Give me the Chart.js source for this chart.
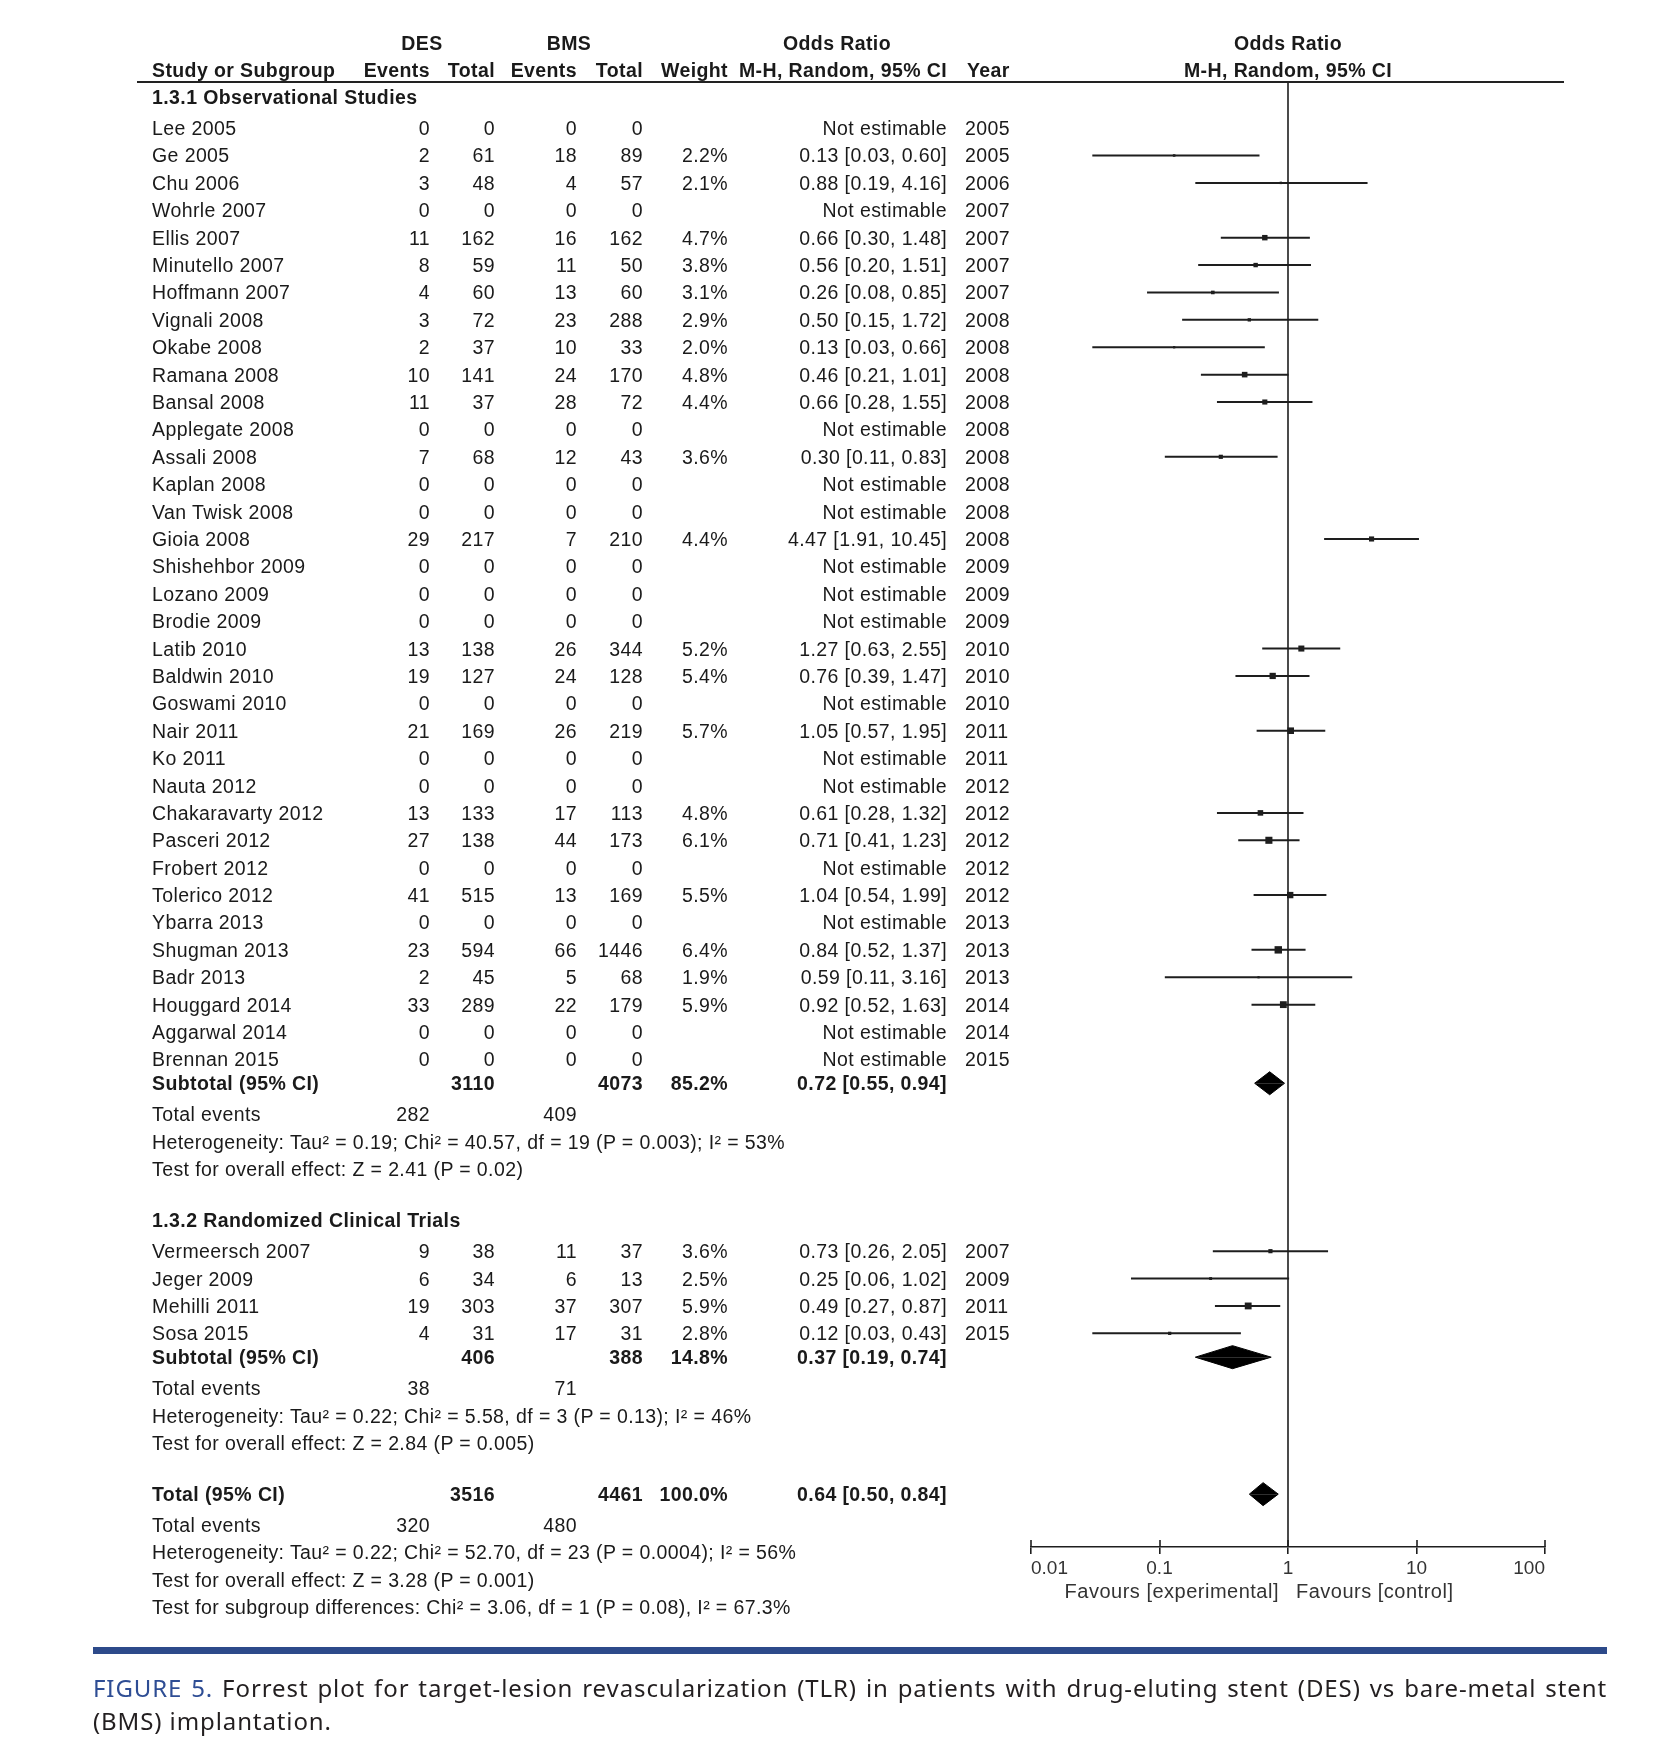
<!DOCTYPE html>
<html>
<head>
<meta charset="utf-8">
<script src="https://cdn.jsdelivr.net/npm/chart.js@4.4.1/dist/chart.umd.min.js"></script>
<style>
html,body{margin:0;padding:0;background:#fff;}
#wrap{position:relative;width:1666px;height:1762px;overflow:hidden;background:#fff;}
#c{position:absolute;left:0;top:0;}
.t{position:absolute;white-space:pre;font-family:"Liberation Sans",Arial,sans-serif;font-size:19.5px;letter-spacing:0.4px;line-height:24px;color:#1a1a1a;}
.b{font-weight:bold;}
.ax{color:#333;font-size:20px;letter-spacing:0.5px;}
#hline{position:absolute;left:137px;width:1427px;top:81px;height:2px;background:#222;}
#rule{position:absolute;left:93px;width:1514px;top:1647px;height:7px;background:#2d4a8a;}
.cap{position:absolute;left:93px;width:1514px;font-family:"Noto Sans","Open Sans",sans-serif;font-size:24px;letter-spacing:0.9px;line-height:32px;color:#231f20;white-space:nowrap;}
#cap1{top:1672px;text-align:justify;text-align-last:justify;}
#cap2{top:1705px;}
.fig{color:#2e4d94;}
</style>
</head>
<body>
<div id="wrap">
<canvas id="c" width="1666" height="1762"></canvas>
<div id="hline"></div>
<div id="rule"></div>
<div class="cap" id="cap1"><span class="fig">FIGURE 5.</span> Forrest plot for target-lesion revascularization (TLR) in patients with drug-eluting stent (DES) vs bare-metal stent</div>
<div class="cap" id="cap2">(BMS) implantation.</div>
</div>
<script>
// ---------------- DATA ----------------
const obsStudies = ["Lee 2005","Ge 2005","Chu 2006","Wohrle 2007","Ellis 2007","Minutello 2007","Hoffmann 2007","Vignali 2008","Okabe 2008","Ramana 2008","Bansal 2008","Applegate 2008","Assali 2008","Kaplan 2008","Van Twisk 2008","Gioia 2008","Shishehbor 2009","Lozano 2009","Brodie 2009","Latib 2010","Baldwin 2010","Goswami 2010","Nair 2011","Ko 2011","Nauta 2012","Chakaravarty 2012","Pasceri 2012","Frobert 2012","Tolerico 2012","Ybarra 2013","Shugman 2013","Badr 2013","Houggard 2014","Aggarwal 2014","Brennan 2015"];
const obsDesEvents = [0,2,3,0,11,8,4,3,2,10,11,0,7,0,0,29,0,0,0,13,19,0,21,0,0,13,27,0,41,0,23,2,33,0,0];
const obsDesTotal  = [0,61,48,0,162,59,60,72,37,141,37,0,68,0,0,217,0,0,0,138,127,0,169,0,0,133,138,0,515,0,594,45,289,0,0];
const obsBmsEvents = [0,18,4,0,16,11,13,23,10,24,28,0,12,0,0,7,0,0,0,26,24,0,26,0,0,17,44,0,13,0,66,5,22,0,0];
const obsBmsTotal  = [0,89,57,0,162,50,60,288,33,170,72,0,43,0,0,210,0,0,0,344,128,0,219,0,0,113,173,0,169,0,1446,68,179,0,0];
const obsWeight = [null,2.2,2.1,null,4.7,3.8,3.1,2.9,2.0,4.8,4.4,null,3.6,null,null,4.4,null,null,null,5.2,5.4,null,5.7,null,null,4.8,6.1,null,5.5,null,6.4,1.9,5.9,null,null];
const obsOR = [null,0.13,0.88,null,0.66,0.56,0.26,0.50,0.13,0.46,0.66,null,0.30,null,null,4.47,null,null,null,1.27,0.76,null,1.05,null,null,0.61,0.71,null,1.04,null,0.84,0.59,0.92,null,null];
const obsLo = [null,0.03,0.19,null,0.30,0.20,0.08,0.15,0.03,0.21,0.28,null,0.11,null,null,1.91,null,null,null,0.63,0.39,null,0.57,null,null,0.28,0.41,null,0.54,null,0.52,0.11,0.52,null,null];
const obsHi = [null,0.60,4.16,null,1.48,1.51,0.85,1.72,0.66,1.01,1.55,null,0.83,null,null,10.45,null,null,null,2.55,1.47,null,1.95,null,null,1.32,1.23,null,1.99,null,1.37,3.16,1.63,null,null];
const obsYear = [2005,2005,2006,2007,2007,2007,2007,2008,2008,2008,2008,2008,2008,2008,2008,2008,2009,2009,2009,2010,2010,2010,2011,2011,2012,2012,2012,2012,2012,2013,2013,2013,2014,2014,2015];

const rctStudies = ["Vermeersch 2007","Jeger 2009","Mehilli 2011","Sosa 2015"];
const rctDesEvents = [9,6,19,4];
const rctDesTotal  = [38,34,303,31];
const rctBmsEvents = [11,6,37,17];
const rctBmsTotal  = [37,13,307,31];
const rctWeight = [3.6,2.5,5.9,2.8];
const rctOR = [0.73,0.25,0.49,0.12];
const rctLo = [0.26,0.06,0.27,0.03];
const rctHi = [2.05,1.02,0.87,0.43];
const rctYear = [2007,2009,2011,2015];

// summaries: [observational subtotal, RCT subtotal, overall total]
const sumLabels = ["Subtotal (95% CI)","Subtotal (95% CI)","Total (95% CI)"];
const sumDesTotal = [3110,406,3516];
const sumBmsTotal = [4073,388,4461];
const sumWeight = ["85.2%","14.8%","100.0%"];
const sumOR = [0.72,0.37,0.64];
const sumLo = [0.55,0.19,0.50];
const sumHi = [0.94,0.74,0.84];
const sumDesEvents = [282,38,320];
const sumBmsEvents = [409,71,480];
const sumHet = [
  "Heterogeneity: Tau\u00B2 = 0.19; Chi\u00B2 = 40.57, df = 19 (P = 0.003); I\u00B2 = 53%",
  "Heterogeneity: Tau\u00B2 = 0.22; Chi\u00B2 = 5.58, df = 3 (P = 0.13); I\u00B2 = 46%",
  "Heterogeneity: Tau\u00B2 = 0.22; Chi\u00B2 = 52.70, df = 23 (P = 0.0004); I\u00B2 = 56%"
];
const sumTest = [
  "Test for overall effect: Z = 2.41 (P = 0.02)",
  "Test for overall effect: Z = 2.84 (P = 0.005)",
  "Test for overall effect: Z = 3.28 (P = 0.001)"
];
const subgroupTest = "Test for subgroup differences: Chi\u00B2 = 3.06, df = 1 (P = 0.08), I\u00B2 = 67.3%";
const groupTitles = ["1.3.1 Observational Studies","1.3.2 Randomized Clinical Trials"];

const tickValues = [0.01,0.1,1,10,100];
const tickLabels = ["0.01","0.1","1","10","100"];
const favourLabels = ["Favours [experimental]","Favours [control]"];

// ---------------- LAYOUT (row slots) ----------------
const Y_TOP = -0.683, Y_BOTTOM = 52.80;
const obsSlot = i => 1 + i;
const rctSlot = i => 42 + i;
const SUM_SLOT = [35.87, 45.87, 50.87];
const EV_SLOT = [37, 47, 52];
const HET_SLOT = [38, 48, 53];
const TEST_SLOT = [39, 49, 54];
const SUBGROUP_SLOT = 55;
const GROUP_SLOT = [-0.13, 40.87];
const DIAM_H = 0.42;

// ---------------- DATASETS ----------------
const ink = '#1e1e1e';
const datasets = [];
datasets.push({data:[{x:1,y:Y_TOP},{x:1,y:Y_BOTTOM}], showLine:true, borderColor:ink, borderWidth:1.6, pointRadius:0});

const markerPts = [], markerW = [];
function addStudy(or, lo, hi, w, slot){
  if (or == null) return;
  datasets.push({data:[{x:lo,y:slot},{x:hi,y:slot}], showLine:true, borderColor:ink, borderWidth:2, pointRadius:0});
  markerPts.push({x:or, y:slot});
  markerW.push(w);
}
obsOR.forEach((v,i)=>addStudy(v, obsLo[i], obsHi[i], obsWeight[i], obsSlot(i)));
rctOR.forEach((v,i)=>addStudy(v, rctLo[i], rctHi[i], rctWeight[i], rctSlot(i)));
datasets.push({data:markerPts, showLine:false, pointStyle:'rect', backgroundColor:ink, borderWidth:0,
  pointRadius: ctx => markerW[ctx.dataIndex] * 0.82});

sumOR.forEach((v,i)=>{
  const s = SUM_SLOT[i];
  datasets.push({data:[{x:sumLo[i],y:s},{x:v,y:s-DIAM_H},{x:sumHi[i],y:s}], showLine:true, tension:0,
    borderColor:'#000', borderWidth:1, backgroundColor:'#000', fill:{value:s}, pointRadius:0});
  datasets.push({data:[{x:sumLo[i],y:s},{x:v,y:s+DIAM_H},{x:sumHi[i],y:s}], showLine:true, tension:0,
    borderColor:'#000', borderWidth:1, backgroundColor:'#000', fill:{value:s}, pointRadius:0});
});

const tickUpper = {
  id:'tickUpper',
  afterDraw(chart){
    const xs = chart.scales.x, ctx = chart.ctx, yb = chart.chartArea.bottom;
    ctx.save(); ctx.strokeStyle = ink; ctx.lineWidth = 1.6;
    tickValues.forEach(v=>{ const px = Math.round(xs.getPixelForValue(v)); ctx.beginPath(); ctx.moveTo(px, yb-7); ctx.lineTo(px, yb); ctx.stroke(); });
    ctx.restore();
  }
};

const chart = new Chart(document.getElementById('c'), {
  type:'scatter',
  data:{datasets},
  options:{
    responsive:false, animation:false, events:[],
    layout:{padding:{left:1031, right:121, top:82, bottom:175}},
    plugins:{legend:{display:false}, tooltip:{enabled:false}, title:{display:false}},
    scales:{
      x:{type:'logarithmic', min:0.01, max:100, position:'bottom', offset:false,
        afterBuildTicks: s => { s.ticks = tickValues.map(v=>({value:v})); },
        afterFit: s => { s.height = 40; },
        grid:{drawOnChartArea:false, drawTicks:true, tickLength:7, color:ink, lineWidth:1.6},
        border:{display:true, color:ink, width:1.6},
        ticks:{align:'inner', autoSkip:false, maxRotation:0, minRotation:0, padding:3, color:'#333',
          font:{family:'Liberation Sans', size:19}, callback:(v,i)=>tickLabels[i]}
      },
      y:{type:'linear', display:false, reverse:true, min:Y_TOP, max:Y_BOTTOM}
    }
  },
  plugins:[tickUpper]
});

// ---------------- TEXT TABLE (positioned with the chart's scales) ----------------
const wrap = document.getElementById('wrap');
const yS = chart.scales.y, xS = chart.scales.x;
function put(text, x, slot, align, cls){
  const d = document.createElement('div');
  d.className = 't' + (cls ? ' ' + cls : '');
  d.textContent = text;
  const y = yS.getPixelForValue(slot);
  d.style.top = (y - 12) + 'px';
  if (align === 'right') d.style.right = (1666 - x) + 'px';
  else if (align === 'center') { d.style.left = x + 'px'; d.style.transform = 'translateX(-50%)'; }
  else d.style.left = x + 'px';
  wrap.appendChild(d);
}
const X_NAME = 152, X_DEV = 430, X_DTOT = 495, X_BEV = 577, X_BTOT = 643, X_W = 728, X_OR = 947, X_YEAR = 965;
const fmtOR = (o,l,h) => o == null ? 'Not estimable' : `${o.toFixed(2)} [${l.toFixed(2)}, ${h.toFixed(2)}]`;
const x1 = xS.getPixelForValue(1);

// header
put('DES', 422, -2.1, 'center', 'b');
put('BMS', 569, -2.1, 'center', 'b');
put('Odds Ratio', 837, -2.1, 'center', 'b');
put('Odds Ratio', x1, -2.1, 'center', 'b');
put('Study or Subgroup', X_NAME, -1.12, 'left', 'b');
put('Events', X_DEV, -1.12, 'right', 'b');
put('Total', X_DTOT, -1.12, 'right', 'b');
put('Events', X_BEV, -1.12, 'right', 'b');
put('Total', X_BTOT, -1.12, 'right', 'b');
put('Weight', X_W, -1.12, 'right', 'b');
put('M-H, Random, 95% CI', X_OR, -1.12, 'right', 'b');
put('Year', X_YEAR + 2, -1.12, 'left', 'b');
put('M-H, Random, 95% CI', x1, -1.12, 'center', 'b');

function studyRow(name, de, dt, be, bt, w, o, l, h, yr, slot){
  put(name, X_NAME, slot, 'left');
  put(String(de), X_DEV, slot, 'right');
  put(String(dt), X_DTOT, slot, 'right');
  put(String(be), X_BEV, slot, 'right');
  put(String(bt), X_BTOT, slot, 'right');
  if (w != null) put(w.toFixed(1) + '%', X_W, slot, 'right');
  put(fmtOR(o,l,h), X_OR, slot, 'right');
  put(String(yr), X_YEAR, slot, 'left');
}
function summaryBlock(i){
  put(sumLabels[i], X_NAME, SUM_SLOT[i], 'left', 'b');
  put(String(sumDesTotal[i]), X_DTOT, SUM_SLOT[i], 'right', 'b');
  put(String(sumBmsTotal[i]), X_BTOT, SUM_SLOT[i], 'right', 'b');
  put(sumWeight[i], X_W, SUM_SLOT[i], 'right', 'b');
  put(fmtOR(sumOR[i], sumLo[i], sumHi[i]), X_OR, SUM_SLOT[i], 'right', 'b');
  put('Total events', X_NAME, EV_SLOT[i], 'left');
  put(String(sumDesEvents[i]), X_DEV, EV_SLOT[i], 'right');
  put(String(sumBmsEvents[i]), X_BEV, EV_SLOT[i], 'right');
  put(sumHet[i], X_NAME, HET_SLOT[i], 'left');
  put(sumTest[i], X_NAME, TEST_SLOT[i], 'left');
}

put(groupTitles[0], X_NAME, GROUP_SLOT[0], 'left', 'b');
obsStudies.forEach((n,i)=>studyRow(n, obsDesEvents[i], obsDesTotal[i], obsBmsEvents[i], obsBmsTotal[i], obsWeight[i], obsOR[i], obsLo[i], obsHi[i], obsYear[i], obsSlot(i)));
summaryBlock(0);
put(groupTitles[1], X_NAME, GROUP_SLOT[1], 'left', 'b');
rctStudies.forEach((n,i)=>studyRow(n, rctDesEvents[i], rctDesTotal[i], rctBmsEvents[i], rctBmsTotal[i], rctWeight[i], rctOR[i], rctLo[i], rctHi[i], rctYear[i], rctSlot(i)));
summaryBlock(1);
summaryBlock(2);
put(subgroupTest, X_NAME, SUBGROUP_SLOT, 'left');

// favour labels around OR = 1
(function(){
  const yb = chart.chartArea.bottom + 44;
  const a = document.createElement('div'); a.className = 't ax'; a.textContent = favourLabels[0];
  a.style.top = (yb - 12) + 'px'; a.style.right = (1666 - (x1 - 9)) + 'px'; wrap.appendChild(a);
  const b = document.createElement('div'); b.className = 't ax'; b.textContent = favourLabels[1];
  b.style.top = (yb - 12) + 'px'; b.style.left = (x1 + 8) + 'px'; wrap.appendChild(b);
})();
</script>
</body>
</html>
